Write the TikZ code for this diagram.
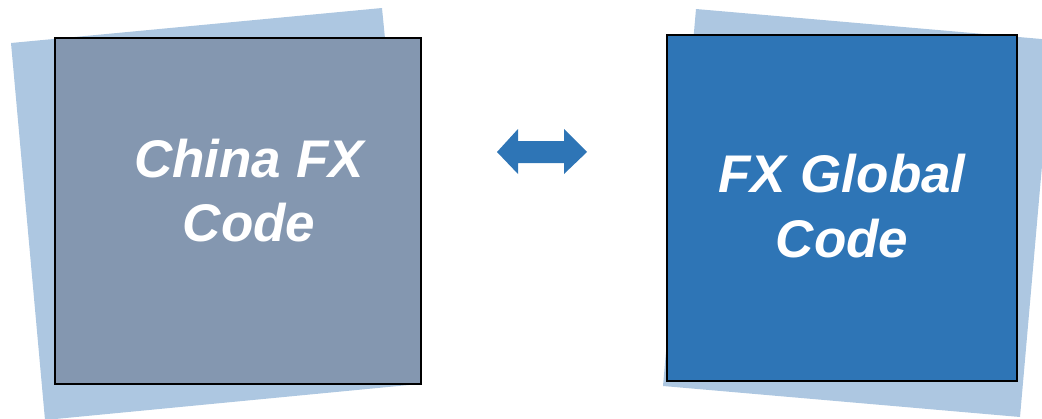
\documentclass[tikz,border=0pt]{standalone}
\usepackage{fontspec}
\setmainfont{Liberation Sans}
\definecolor{backblue}{RGB}{173,199,225}
\definecolor{slate}{RGB}{132,151,176}
\definecolor{mainblue}{RGB}{46,117,182}
\begin{document}
\begin{tikzpicture}[x=1pt,y=-1pt,
  back/.style={fill=backblue,draw=none},
  front/.style={draw=black,line width=1.3pt},
  label/.style={text=white,font=\fontsize{53}{64}\selectfont\bfseries\itshape,anchor=base,inner sep=0pt}]
\useasboundingbox (0,0) rectangle (1042,418);
\begin{scope}
\clip (0,0) rectangle (1042,418);
% left card
\fill[back] (11,43) -- (382,8) -- (419,384) -- (45,420) -- cycle;
\draw[front,fill=slate] (55,38) rectangle (421,384);
\node[label] (l1) at (249,177) {China FX};
\node[label] (l2) at (249,241) {Code};
% right card
\fill[back] (696,9) -- (1053,40) -- (1020,417) -- (663,386) -- cycle;
\draw[front,fill=mainblue] (667,35) rectangle (1017,381);
\node[label] (r1) at (842,192) {FX Global};
\node[label] (r2) at (842,257) {Code};
% double arrow
\fill[mainblue] (497,152) -- (518,129) -- (518,141) -- (564,141) -- (564,129) -- (587,152)
  -- (564,174) -- (564,163) -- (518,163) -- (518,174) -- cycle;
\end{scope}
\end{tikzpicture}
\end{document}
